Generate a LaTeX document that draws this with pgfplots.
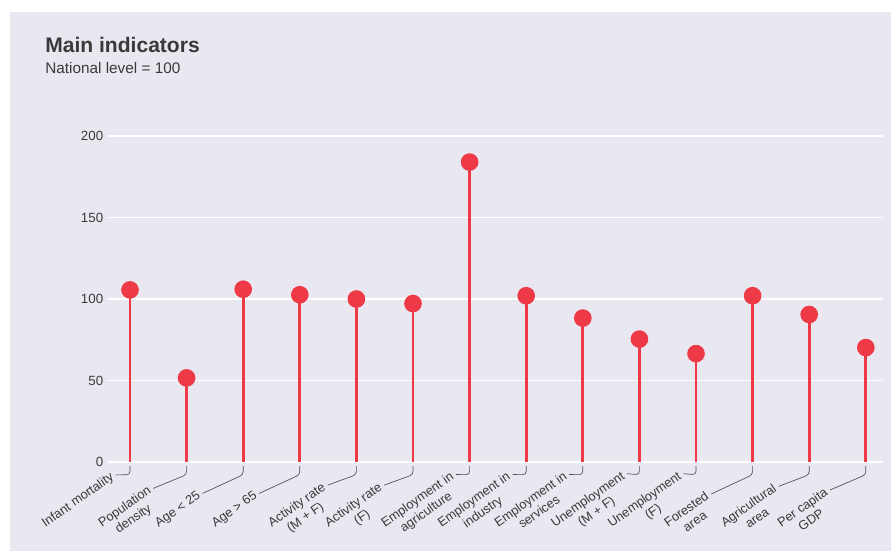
\documentclass[border=0pt]{standalone}
\usepackage{pgfplots}
\pgfplotsset{compat=1.18}
\usepackage{fontspec}
\setmainfont{Liberation Sans}
\definecolor{bgc}{HTML}{E9E7F0}
\definecolor{txt}{HTML}{3A3A3A}
\definecolor{stem}{HTML}{EE3A46}
\definecolor{lead}{HTML}{505050}
\begin{document}
\begin{tikzpicture}
\tikzset{
  lab/.style={font=\fontsize{9.6}{11.5}\selectfont, text=txt, rotate=35, inner sep=0.6pt, text height=7.2pt, text depth=2.4pt},
  leader/.style={draw=lead, line width=0.5pt, rounded corners=2.5pt},
}
\newcommand\lbl[3]{%
  \node[lab, anchor=base west] (L#1) at ([shift={(-64pt,-49.5pt)}]axis cs:#1,0) {#2};
  \node[lab, anchor=north] at (L#1.south) {#3};
  \draw[leader] ([yshift=-3pt]axis cs:#1,0) -- ([yshift=-9.5pt]axis cs:#1,0) -- ([shift={(1.8pt,0.8pt)}]L#1.east);
}
\begin{axis}[
  set layers,
  x=42.45pt, y=1.2225pt,
  xmin=-0.39, xmax=13.3,
  ymin=0, ymax=200,
  clip=false,
  axis line style={draw=none},
  major tick length=0pt,
  xtick=\empty,
  ytick={0,50,100,150,200},
  ymajorgrids=true,
  grid style={draw=white, line width=1.4pt},
  yticklabel style={font=\fontsize{10}{12}\selectfont, text=txt},
  /pgf/number format/assume math mode=true,
]
\begin{pgfonlayer}{axis background}
  \fill[white] ([shift={(-97.5pt,-66.75pt)}]axis cs:0,0) rectangle ([shift={(570.75pt,346.5pt)}]axis cs:0,0);
  \fill[bgc] ([shift={(-90pt,-66.75pt)}]axis cs:0,0) rectangle ([shift={(570.75pt,337.5pt)}]axis cs:0,0);
\end{pgfonlayer}
\addplot[ycomb, draw=stem, line width=2.2pt, mark=*, mark size=5.5pt, mark options={fill=stem, draw=none}]
coordinates {
(0,105.6) (1,51.6) (2,106) (3,102.6) (4,100) (5,97.2) (6,184)
(7,102) (8,88.3) (9,75.4) (10,66.5) (11,102) (12,90.5) (13,70.2)
};
\node[anchor=base west, inner sep=0pt, text=txt, font=\fontsize{15.8}{18}\selectfont\bfseries] at ([shift={(-63.75pt,306.75pt)}]axis cs:0,0) {Main indicators};
\node[anchor=base west, inner sep=0pt, text=txt, font=\fontsize{11.5}{13}\selectfont] at ([shift={(-63.75pt,291pt)}]axis cs:0,0) {National level = 100};
\lbl{0}{Infant mortality}{}
\lbl{1}{Population}{density}
\lbl{2}{Age < 25}{}
\lbl{3}{Age > 65}{}
\lbl{4}{Activity rate}{(M + F)}
\lbl{5}{Activity rate}{(F)}
\lbl{6}{Employment in}{agriculture}
\lbl{7}{Employment in}{industry}
\lbl{8}{Employment in}{services}
\lbl{9}{Unemployment}{(M + F)}
\lbl{10}{Unemployment}{(F)}
\lbl{11}{Forested}{area}
\lbl{12}{Agricultural}{area}
\lbl{13}{Per capita}{GDP}
\end{axis}
\end{tikzpicture}
\end{document}
